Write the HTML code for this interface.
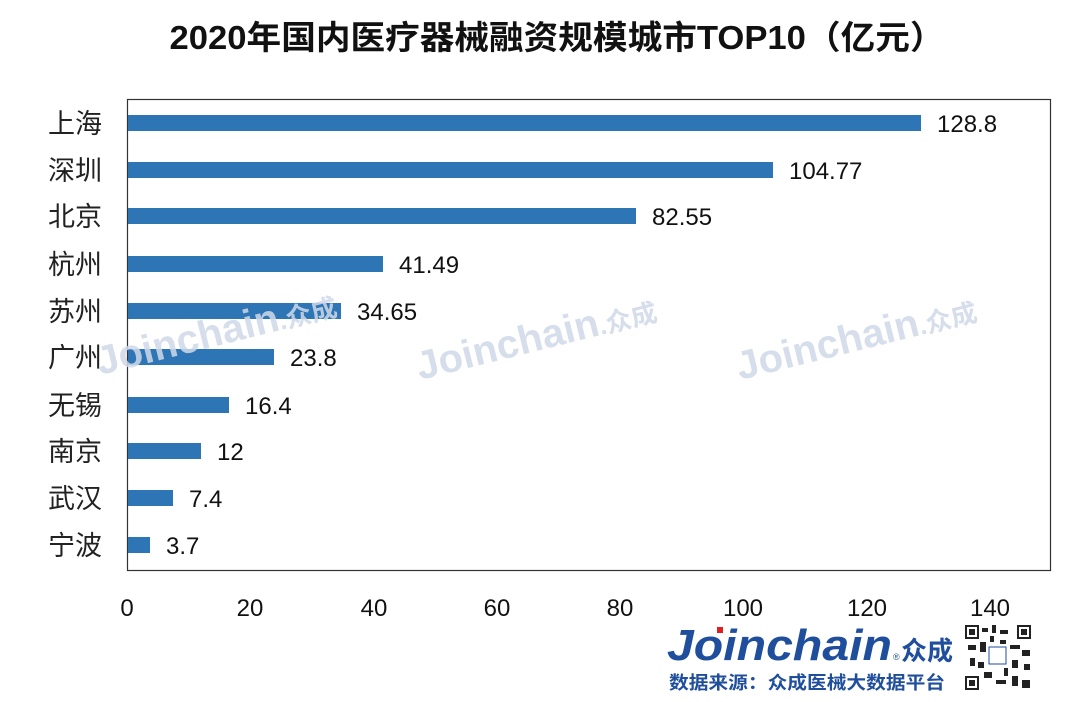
<!DOCTYPE html>
<html><head><meta charset="utf-8"><style>
body{margin:0;width:1080px;height:702px;background:#fff;overflow:hidden;font-family:"Liberation Sans","Noto Sans CJK SC",sans-serif;}
</style></head><body>
<svg width="1080" height="702" xmlns="http://www.w3.org/2000/svg" style="position:absolute;left:0;top:0">
<text x="557" y="49" text-anchor="middle" font-size="33" font-weight="bold" fill="#111" font-family="Liberation Sans,Noto Sans CJK SC,sans-serif" textLength="775" lengthAdjust="spacingAndGlyphs">2020年国内医疗器械融资规模城市TOP10（亿元）</text>
<rect x="127.5" y="99.5" width="923" height="471" fill="none" stroke="#333" stroke-width="1.2"/>
<g fill="#2e75b6">
<rect x="128" y="115" width="793" height="16"/>
<rect x="128" y="162" width="645" height="16"/>
<rect x="128" y="208" width="508" height="16"/>
<rect x="128" y="256" width="255" height="16"/>
<rect x="128" y="303" width="213" height="16"/>
<rect x="128" y="349" width="146" height="16"/>
<rect x="128" y="397" width="101" height="16"/>
<rect x="128" y="443" width="73" height="16"/>
<rect x="128" y="490" width="45" height="16"/>
<rect x="128" y="537" width="22" height="16"/>
</g>
<g font-size="24" fill="#111" font-family="Liberation Sans,sans-serif">
<text x="937" y="132">128.8</text>
<text x="789" y="179">104.77</text>
<text x="652" y="225">82.55</text>
<text x="399" y="273">41.49</text>
<text x="357" y="320">34.65</text>
<text x="290" y="366">23.8</text>
<text x="245" y="414">16.4</text>
<text x="217" y="460">12</text>
<text x="189" y="507">7.4</text>
<text x="166" y="554">3.7</text>
</g>
<g font-size="27" fill="#222" text-anchor="end" font-family="Noto Sans CJK SC,sans-serif">
<text x="102" y="133">上海</text>
<text x="102" y="180">深圳</text>
<text x="102" y="226">北京</text>
<text x="102" y="274">杭州</text>
<text x="102" y="321">苏州</text>
<text x="102" y="367">广州</text>
<text x="102" y="415">无锡</text>
<text x="102" y="461">南京</text>
<text x="102" y="508">武汉</text>
<text x="102" y="555">宁波</text>
</g>
<g font-size="24" fill="#111" text-anchor="middle" font-family="Liberation Sans,sans-serif">
<text x="127" y="616">0</text><text x="250" y="616">20</text><text x="374" y="616">40</text><text x="497" y="616">60</text><text x="620" y="616">80</text><text x="743" y="616">100</text><text x="867" y="616">120</text><text x="990" y="616">140</text>
</g>
<g font-size="40" font-weight="bold" fill="#d0d9e8" opacity="0.85" font-family="Liberation Sans,Noto Sans CJK SC,sans-serif">
<text transform="translate(100,375) rotate(-14)">Joinchain<tspan font-size="26">.众成</tspan></text>
<text transform="translate(420,380) rotate(-14)">Joinchain<tspan font-size="26">.众成</tspan></text>
<text transform="translate(740,380) rotate(-14)">Joinchain<tspan font-size="26">.众成</tspan></text>
</g>
<text x="667" y="660" font-size="44" font-weight="bold" font-style="italic" fill="#1f4e9c" font-family="Liberation Sans,sans-serif" textLength="225" lengthAdjust="spacingAndGlyphs">Joinchain</text>
<rect x="717" y="627" width="6" height="6" fill="#e02020"/>
<text x="893" y="660" font-size="9" fill="#1f4e9c">®</text>
<text x="901" y="660" font-size="26" font-weight="bold" fill="#1f4e9c" font-family="Noto Sans CJK SC,sans-serif">众成</text>
<text x="669" y="689" font-size="18" font-weight="bold" fill="#1f4e9c" font-family="Noto Sans CJK SC,sans-serif" textLength="276" lengthAdjust="spacingAndGlyphs">数据来源：众成医械大数据平台</text>
<rect x="964" y="624" width="67" height="66" fill="#fff"/>
<g fill="#222">
<rect x="965" y="625" width="14" height="14"/><rect x="1017" y="625" width="14" height="14"/><rect x="965" y="676" width="14" height="14"/>
<rect x="982" y="628" width="6" height="4"/><rect x="992" y="625" width="4" height="8"/><rect x="1000" y="630" width="8" height="4"/>
<rect x="968" y="645" width="8" height="5"/><rect x="980" y="642" width="6" height="10"/><rect x="1010" y="645" width="10" height="4"/><rect x="1022" y="650" width="8" height="6"/>
<rect x="970" y="658" width="5" height="8"/><rect x="1012" y="660" width="6" height="8"/><rect x="1024" y="664" width="6" height="6"/>
<rect x="984" y="672" width="8" height="6"/><rect x="996" y="680" width="10" height="4"/><rect x="1012" y="676" width="6" height="10"/><rect x="1022" y="680" width="8" height="8"/>
<rect x="990" y="636" width="4" height="6"/><rect x="1000" y="640" width="6" height="4"/><rect x="978" y="662" width="6" height="6"/><rect x="1004" y="668" width="4" height="8"/>
</g>
<g fill="#fff"><rect x="967" y="627" width="10" height="10"/><rect x="1019" y="627" width="10" height="10"/><rect x="967" y="678" width="10" height="10"/></g>
<g fill="#222"><rect x="969" y="629" width="6" height="6"/><rect x="1021" y="629" width="6" height="6"/><rect x="969" y="680" width="6" height="6"/></g>
<rect x="989" y="647" width="17" height="17" fill="#fff" stroke="#1f4e9c" stroke-width="1"/>
</svg>
</body></html>
